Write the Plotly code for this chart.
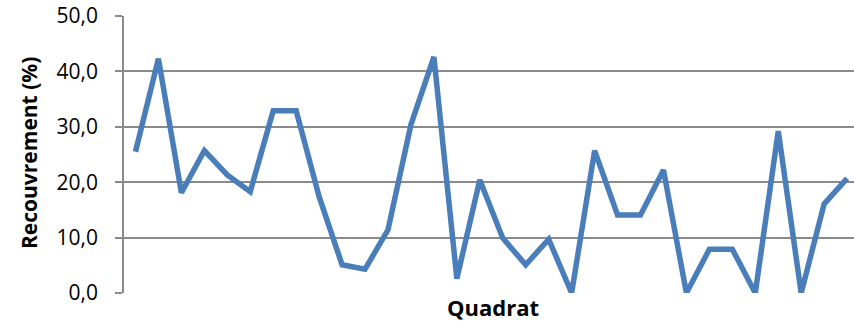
import plotly.graph_objects as go

# Recouvrement par quadrat (%)
quadrats = list(range(1, 33))
recouvrement = [25.5, 42.3, 18.1, 25.7, 21.3, 18.3, 32.9, 32.9,
                17.4, 5.1, 4.3, 11.4, 30.4, 42.6, 2.6, 20.4,
                9.9, 5.1, 9.7, 0.0, 25.7, 14.1, 14.1, 22.2,
                0.0, 7.9, 7.9, 0.0, 29.2, 0.0, 16.1, 20.7]
y_ticks = [0, 10, 20, 30, 40, 50]

grid = "#8a8a8a"
ml, mt, mb, W, H = 124, 16, 30, 854, 323
plot_w = W - ml
plot_h = H - mt - mb
plot_bottom = H - mb

fig = go.Figure()
fig.add_trace(go.Scatter(
    x=quadrats, y=recouvrement, mode="lines",
    line=dict(color="#4a7ebb", width=5.5, shape="linear"),
    hoverinfo="skip",
))

fig.update_layout(
    width=W, height=H,
    margin=dict(l=ml, r=0, t=mt, b=mb),
    paper_bgcolor="white", plot_bgcolor="white",
    showlegend=False,
    separators=",.",
    font=dict(family="Open Sans, Liberation Sans, sans-serif", color="black"),
    xaxis=dict(
        range=[0.5, 32.3],
        showticklabels=False, showgrid=False, zeroline=False,
        showline=False, ticks="",
    ),
    yaxis=dict(
        range=[0, 50], tickvals=y_ticks, tickformat=".1f",
        showgrid=True, gridcolor=grid, gridwidth=1.5,
        zeroline=False,
        showline=True, linecolor=grid, linewidth=1.5,
        ticks="outside", ticklen=7, tickcolor=grid, tickwidth=1.5,
        tickfont=dict(size=21), ticklabelstandoff=13,
    ),
    annotations=[
        dict(text="<b>Quadrat</b>", xref="paper", yref="paper",
             x=(493 - ml) / plot_w, y=-(307 - plot_bottom) / plot_h,
             xanchor="center", yanchor="middle", showarrow=False,
             font=dict(size=22)),
        dict(text="<b>Recouvrement (%)</b>", xref="paper", yref="paper",
             x=(29 - ml) / plot_w, y=(plot_bottom - 153) / plot_h,
             xanchor="center", yanchor="middle", showarrow=False,
             textangle=-90, font=dict(size=21)),
    ],
)

fig.write_html("out.html")
